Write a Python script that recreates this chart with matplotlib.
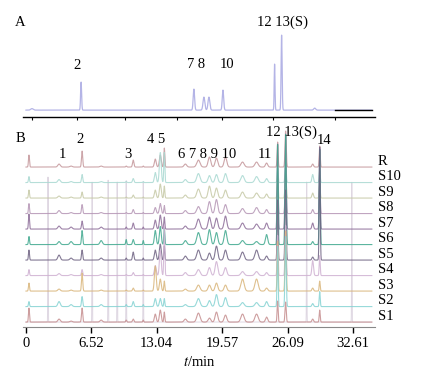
"""HPLC fingerprint chromatograms: (A) reference mix, (B) R + S1-S10 stacked."""

import matplotlib
matplotlib.use("Agg")
import matplotlib.pyplot as plt
import numpy as np

plt.rcParams["font.family"] = ["Liberation Serif", "DejaVu Serif"]
plt.rcParams["mathtext.fontset"] = "stix"

# ---------------------------------------------------------------------------
# Panel A: reference solution (retention time / min, height, sigma)
# ---------------------------------------------------------------------------
A_TIMES = [0.6, 5.5, 16.75, 17.75, 18.25, 19.65, 24.8, 25.5, 28.8]
A_HEIGHTS = [1.5, 28, 21, 13, 13, 20, 46, 75, 2]
A_SIGMAS = [0.12, 0.05, 0.07, 0.09, 0.09, 0.07, 0.04, 0.05, 0.1]
A_LABELS = ["2", "7 8", "10", "12 13(S)"]
A_LABEL_T = [5.1, 17.0, 20.1, 25.6]
A_LABEL_Y = [45, 46, 46, 88]
A_TICKS = [0.6, 5.1, 9.9, 15.1, 19.6, 24.6, 30.8]
A_BAR_T = [30.8, 34.5]   # short black baseline segment at the right

# ---------------------------------------------------------------------------
# Panel B: common peak table + per-sample heights
# ---------------------------------------------------------------------------
T_PEAKS = [0.3, 3.3, 4.5, 5.6, 7.5, 10.0, 10.7, 11.7,
           12.9, 13.4, 13.8, 15.9, 17.2, 18.3, 19.0, 19.9, 21.6, 23.0, 24.0,
           25.1, 25.9, 28.6, 29.3]
W_PEAKS = [0.05, 0.12, 0.12, 0.06, 0.12, 0.05, 0.07, 0.04,
           0.09, 0.09, 0.05, 0.13, 0.16, 0.13, 0.13, 0.13, 0.16, 0.16, 0.11,
           0.05, 0.06, 0.08, 0.05]

SAMPLES = ["R", "S10", "S9", "S8", "S7", "S6", "S5", "S4", "S3", "S2", "S1"]
H_R = [12, 3, 1, 16, 1, 1, 7, 1, 8, 12, 19, 3, 7, 10, 9, 10, 5, 5, 4, 25, 36, 3, 21]
H_S10 = [6, 3, 1, 8, 1, 1, 4, 1, 10, 30, 30, 3, 9, 7, 8, 9, 7, 6, 4, 14, 20, 8, 12]
H_S9 = [8, 2, 1, 6, 1, 1, 3, 1, 8, 14, 12, 3, 9, 12, 10, 8, 6, 5, 4, 20, 28, 5, 14]
H_S8 = [10, 3, 1, 9, 1, 1, 4, 1, 6, 10, 8, 3, 7, 12, 14, 9, 5, 6, 4, 30, 45, 4, 30]
H_S7 = [15, 3, 2, 8, 2, 2, 6, 2, 9, 14, 12, 3, 10, 12, 11, 13, 6, 5, 6, 85, 95, 6, 80]
H_S6 = [8, 3, 3, 14, 4, 5, 5, 4, 14, 18, 16, 4, 12, 15, 12, 14, 4, 3, 10, 100, 110, 3, 95]
H_S5 = [10, 5, 2, 10, 2, 2, 8, 2, 10, 16, 14, 4, 10, 7, 14, 10, 8, 10, 4, 60, 70, 3, 113]
H_S4 = [6, 2, 1, 6, 1, 1, 3, 1, 10, 25, 50, 3, 6, 8, 14, 8, 4, 4, 3, 40, 50, 15, 20]
H_S3 = [8, 2, 1, 18, 1, 1, 3, 1, 25, 12, 10, 2, 6, 6, 8, 6, 12, 12, 3, 50, 60, 3, 10]
H_S2 = [5, 5, 2, 10, 2, 2, 5, 2, 8, 8, 8, 2, 8, 6, 12, 9, 4, 4, 5, 60, 70, 3, 15]
H_S1 = [14, 3, 1, 14, 2, 2, 3, 2, 8, 12, 10, 3, 9, 4, 10, 7, 8, 8, 5, 21, 20, 3, 12]
HEIGHTS = [H_R, H_S10, H_S9, H_S8, H_S7, H_S6, H_S5, H_S4, H_S3, H_S2, H_S1]

# very narrow tall spikes rising from the bottom trace (faint vertical lines)
SPIKE_T = [2.2, 6.6, 8.2, 9.1, 10.0, 11.7, 28.0, 32.5]
SPIKE_H = [145, 140, 142, 140, 142, 140, 140, 140]
SPIKE_W = 0.02

COLORS = ["#c4969a", "#a9d9d2", "#c6c9a6", "#b596b5", "#8c6c98", "#3fa88e",
          "#6e6282", "#cfb1d2", "#d9b57a", "#86d3d3", "#c58d8e"]
OFFSET = 15.5

B_TICKS = [0, 6.52, 13.04, 19.57, 26.09, 32.61]
B_LABELS = ["1", "2", "3", "4 5", "6 7 8 9 10", "11", "12 13(S)", "14"]
B_LABEL_T = [3.6, 5.4, 10.2, 13.0, 18.1, 23.8, 26.5, 29.7]
B_LABEL_Y = [168, 183, 168, 183, 168, 168, 190, 182]

XLIM = (-0.3, 34.8)


def _trace(t, times, heights, sigmas):
    y = np.zeros_like(t)
    for t0, h, s in zip(times, heights, sigmas):
        if h:
            y += h * np.exp(-0.5 * ((t - t0) / s) ** 2)
    return y


def main() -> None:
    fig = plt.figure(figsize=(4.25, 3.79), dpi=100)
    t = np.linspace(0, 34.5, 8000)

    # ---------------- Panel A ----------------
    ax_a = fig.add_axes([0.054, 0.691, 0.828, 0.269])
    ax_a.plot(t, _trace(t, A_TIMES, A_HEIGHTS, A_SIGMAS), color="#b4b4e6", lw=0.9)
    ax_a.plot(A_BAR_T, [0, 0], color="black", lw=1.0)
    ax_a.set_xlim(*XLIM)
    ax_a.set_ylim(-7, 95)
    for lab, lt, ly in zip(A_LABELS, A_LABEL_T, A_LABEL_Y):
        ax_a.text(lt, ly, lab, ha="center", va="center", fontsize=10.5)
    ax_a.set_xticks(A_TICKS)
    ax_a.set_xticklabels([])
    ax_a.set_yticks([])
    for side in ("top", "right", "left"):
        ax_a.spines[side].set_visible(False)
    ax_a.spines["bottom"].set_linewidth(1.0)
    ax_a.tick_params(axis="x", direction="out", length=2.5, width=0.8)
    fig.text(20 / 425, 1 - 22 / 379, "A", ha="center", va="center", fontsize=10.5)

    # ---------------- Panel B ----------------
    ax_b = fig.add_axes([0.054, 0.137, 0.828, 0.541])
    ax_b.plot(t, _trace(t, SPIKE_T, SPIKE_H, [SPIKE_W] * len(SPIKE_T)),
              color="#b8a8c0", lw=0.7, alpha=0.45)
    n = len(SAMPLES)
    for i, (name, h, c) in enumerate(zip(SAMPLES, HEIGHTS, COLORS)):
        base = (n - 1 - i) * OFFSET
        ax_b.plot(t, base + _trace(t, T_PEAKS, h, W_PEAKS), color=c, lw=0.8, alpha=0.85)
        ax_b.text(35.1, base + 6, name, ha="left", va="center", fontsize=10.5,
                  clip_on=False)
    for lab, lt, ly in zip(B_LABELS, B_LABEL_T, B_LABEL_Y):
        ax_b.text(lt, ly, lab, ha="center", va="center", fontsize=10.5)
    ax_b.set_xlim(*XLIM)
    ax_b.set_ylim(-5, 200)
    ax_b.set_xticks(B_TICKS)
    ax_b.set_xticklabels([f"{v:g}" for v in B_TICKS], fontsize=10.5)
    ax_b.set_yticks([])
    for side in ("top", "right", "left"):
        ax_b.spines[side].set_visible(False)
    ax_b.spines["bottom"].set_color("#888888")
    ax_b.tick_params(axis="x", direction="out", length=4, width=1.0, pad=3)
    ax_b.set_xlabel("$t$/min", fontsize=10.5, labelpad=4)
    fig.text(20 / 425, 1 - 139 / 379, "B", ha="center", va="center", fontsize=10.5)

    fig.savefig("out.png", dpi=100)
    plt.close(fig)


if __name__ == "__main__":
    main()
